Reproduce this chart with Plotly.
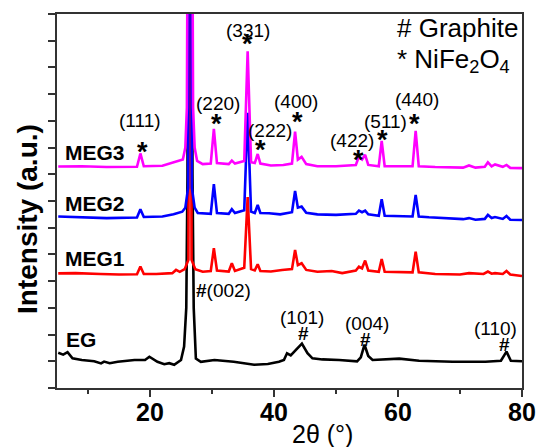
import plotly.graph_objects as go

# ---------------- data ----------------
EG_x = [5.2, 6.0, 6.7, 7.5, 9.0, 11.0, 12.1, 12.6, 13.5, 14.8, 17.5, 19.2, 19.9, 20.6, 21.2, 22.3, 23.1, 23.9,
        25.0, 25.5, 25.85, 26.05, 26.45, 26.85, 27.05, 27.4, 28.2, 30.4, 33.5, 36.8, 39.0, 40.8, 41.6, 42.1,
        42.7, 43.5, 44.5, 45.4, 46.2, 47.8, 50.5, 53.4, 54.0, 54.6, 55.2, 55.9, 60.2, 63.4, 68.8, 74.1, 76.6,
        77.5, 78.2, 80.0]
EG_y = [1.32, 1.25, 1.34, 1.11, 1.05, 1.0, 0.92, 0.99, 0.93, 0.98, 1.05, 1.05, 1.17, 1.08, 0.98, 0.89, 0.93, 0.87,
        1.05, 1.55, 3.0, 8.0, 60.0, 8.0, 3.0, 1.1, 0.98, 1.05, 0.98, 0.87, 0.9, 0.98, 1.05, 1.3,
        1.22, 1.42, 1.66, 1.3, 1.11, 1.07, 1.05, 1.0, 1.15, 1.62, 1.2, 1.05, 1.1, 1.02, 0.98, 0.98, 1.02,
        1.36, 1.02, 1.0]

MEG1_x = [5.2, 8, 12, 15, 17.9, 18.45, 19.0, 21, 23.6, 24.2, 24.8, 25.6, 26.2, 26.45, 26.7, 27.3, 28.5, 29.8,
          30.3, 30.8, 32.7, 33.2, 33.7, 35.2, 35.75, 36.3, 36.9, 37.37, 37.8, 39.5, 41.3, 42.9, 43.4, 43.85,
          44.45, 45.2, 47, 49.3, 51, 53.2, 53.7, 54.2, 54.7, 55.2, 56.9, 57.37, 57.85, 62.35, 62.85, 63.35,
          66, 70, 71.45, 73.8, 74.5, 75.1, 75.65, 76.9, 77.5, 78.1, 80]
MEG1_y = [4.29, 4.3, 4.27, 4.25, 4.26, 4.55, 4.27, 4.27, 4.3, 4.42, 4.35, 4.45, 4.8, 40.0, 4.8, 4.45, 4.35, 4.38,
          5.23, 4.4, 4.36, 4.67, 4.38, 4.5, 7.15, 4.45, 4.4, 4.63, 4.38, 4.36, 4.42, 4.45, 5.17, 4.6,
          4.67, 4.42, 4.35, 4.38, 4.3, 4.4, 4.54, 4.48, 4.77, 4.4, 4.35, 4.83, 4.35, 4.33, 5.1, 4.33,
          4.27, 4.25, 4.3, 4.27, 4.36, 4.28, 4.3, 4.27, 4.38, 4.25, 4.19]

MEG2_x = [5.2, 9, 13, 17.9, 18.45, 19.0, 22, 23.8, 25.2, 25.7, 26.15, 26.45, 26.75, 27.2, 27.7, 29.8, 30.3,
          30.8, 32.7, 33.2, 33.7, 35.2, 35.75, 36.3, 36.9, 37.37, 37.8, 39.2, 41, 42.9, 43.4, 43.85, 44.45,
          45.2, 47, 50, 53.2, 53.7, 54.2, 54.7, 55.2, 56.9, 57.37, 57.85, 62.35, 62.85, 63.35, 65, 70.5,
          71.45, 72.5, 74.0, 74.5, 75.1, 75.65, 76.9, 77.5, 78.1, 80]
MEG2_y = [6.42, 6.4, 6.36, 6.38, 6.69, 6.4, 6.42, 6.5, 6.6, 6.75, 7.5, 40.0, 7.5, 6.75, 6.55, 6.52, 7.63,
          6.55, 6.52, 6.69, 6.55, 6.65, 10.3, 6.6, 6.55, 6.85, 6.55, 6.54, 6.5, 6.58, 7.38, 6.75, 6.79,
          6.56, 6.5, 6.48, 6.52, 6.64, 6.58, 6.64, 6.5, 6.45, 7.07, 6.45, 6.42, 7.23, 6.42, 6.39, 6.32,
          6.36, 6.3, 6.33, 6.48, 6.36, 6.4, 6.33, 6.44, 6.3, 6.29]

MEG3_x = [5.2, 9, 13, 17.9, 18.45, 19.0, 22, 23.9, 25.3, 25.7, 25.95, 26.45, 26.95, 27.2, 27.6, 28.5, 29.8,
          30.3, 30.8, 32.7, 33.2, 33.7, 35.2, 35.75, 36.3, 36.9, 37.37, 37.8, 39.5, 41.5, 42.9, 43.4, 43.85,
          44.45, 45.2, 47, 50, 53.2, 53.7, 54.2, 54.7, 55.2, 56.9, 57.37, 57.85, 62.35, 62.85, 63.35, 66,
          70.5, 71.45, 72.5, 74.0, 74.5, 75.1, 75.65, 76.9, 77.5, 78.1, 80]
MEG3_y = [8.29, 8.3, 8.27, 8.28, 8.78, 8.3, 8.32, 8.45, 8.55, 9.0, 10.5, 40.0, 10.5, 9.0, 8.5, 8.38, 8.4,
          9.7, 8.42, 8.38, 8.51, 8.4, 8.5, 12.6, 8.45, 8.42, 8.76, 8.4, 8.33, 8.35, 8.4, 9.6, 8.55,
          8.65, 8.38, 8.3, 8.3, 8.35, 8.66, 8.55, 8.73, 8.35, 8.3, 9.25, 8.3, 8.3, 9.63, 8.3, 8.27,
          8.25, 8.33, 8.25, 8.28, 8.45, 8.3, 8.37, 8.28, 8.35, 8.24, 8.23]

series_names = ["EG", "MEG1", "MEG2", "MEG3"]
series_colors = ["#000000", "#FF0000", "#0000FF", "#FF00FF"]
series_x = [EG_x, MEG1_x, MEG2_x, MEG3_x]
series_y = [EG_y, MEG1_y, MEG2_y, MEG3_y]

# sample labels: (text, x, y)
sample_labels = [("MEG3", 6.0, 8.83), ("MEG2", 6.0, 6.92), ("MEG1", 6.0, 4.86), ("EG", 6.1, 1.8)]

# NiFe2O4 reflections: (hkl, label x, label y, star x, star y)
spinel_peaks = [("(111)", 18.44, 10.01, 18.71, 9.04),
                ("(220)", 31.02, 10.64, 30.65, 10.10),
                ("(331)", 35.80, 13.40, 35.76, 13.10),
                ("(222)", 39.40, 9.65, 37.90, 9.14),
                ("(400)", 43.50, 10.71, 43.76, 10.19),
                ("(422)", 52.50, 9.27, 53.55, 8.76),
                ("(511)", 57.94, 9.96, 57.47, 9.51),
                ("(440)", 63.11, 10.81, 62.69, 10.10)]

# graphite reflections: (hkl, label x, label y, hash x, hash y)
graphite_peaks = [("(101)", 44.52, 2.65, 44.68, 2.05),
                  ("(004)", 55.00, 2.40, 54.79, 1.83),
                  ("(110)", 75.73, 2.24, 77.21, 1.61)]

FONT = "Liberation Sans, Arial, sans-serif"

fig = go.Figure()
for name, color, xs, ys in zip(series_names, series_colors, series_x, series_y):
    fig.add_trace(go.Scatter(x=xs, y=ys, mode="lines", name=name,
                             line=dict(color=color, width=2.6), showlegend=False))

ann = []
for text, x, y in sample_labels:
    ann.append(dict(x=x, y=y, xref="x", yref="y", text=text, showarrow=False, xanchor="left",
                    yanchor="middle", font=dict(family=FONT, size=21, color="black", weight="bold")))

STAR_SHIFT = 0.22  # asterisk ink sits high in its line box
for hkl, lx, ly, sx, sy in spinel_peaks:
    ann.append(dict(x=lx, y=ly, xref="x", yref="y", text=hkl, showarrow=False, xanchor="center",
                    yanchor="middle", font=dict(family=FONT, size=19, color="black")))
    ann.append(dict(x=sx, y=sy - STAR_SHIFT, xref="x", yref="y", text="*", showarrow=False,
                    xanchor="center", yanchor="middle",
                    font=dict(family=FONT, size=27, color="black", weight="bold")))

for hkl, lx, ly, hx, hy in graphite_peaks:
    ann.append(dict(x=lx, y=ly, xref="x", yref="y", text=hkl, showarrow=False, xanchor="center",
                    yanchor="middle", font=dict(family=FONT, size=19, color="black")))
    ann.append(dict(x=hx, y=hy, xref="x", yref="y", text="#", showarrow=False, xanchor="center",
                    yanchor="middle", font=dict(family=FONT, size=19, color="black", weight="bold")))

ann.append(dict(x=31.8, y=3.65, xref="x", yref="y", text="<b>#</b>(002)", showarrow=False,
                xanchor="center", yanchor="middle", font=dict(family=FONT, size=19, color="black")))

# phase key
ann.append(dict(x=0.727, y=0.9626, xref="paper", yref="paper", text="# Graphite", showarrow=False,
                xanchor="left", yanchor="middle", font=dict(family=FONT, size=26, color="black")))
ann.append(dict(x=0.727, y=0.8770, xref="paper", yref="paper",
                text="* NiFe<sub>2</sub>O<sub>4</sub>", showarrow=False,
                xanchor="left", yanchor="middle", font=dict(family=FONT, size=26, color="black")))

# axis titles
ann.append(dict(x=-0.0624, y=0.452, xref="paper", yref="paper", text="Intensity (a.u.)", showarrow=False,
                textangle=-90, xanchor="center", yanchor="middle",
                font=dict(family=FONT, size=28, color="black", weight="bold")))
ann.append(dict(x=0.571, y=-0.123, xref="paper", yref="paper", text="2θ (°)", showarrow=False,
                xanchor="center", yanchor="middle", font=dict(family=FONT, size=25, color="black")))

fig.update_layout(
    width=538, height=447,
    margin=dict(l=57, r=16, t=14, b=59, autoexpand=False),
    paper_bgcolor="white", plot_bgcolor="white",
    annotations=ann,
    xaxis=dict(range=[5, 80], tickmode="linear", tick0=0, dtick=20, automargin=False,
               ticks="outside", ticklen=7, tickwidth=2, tickcolor="#333",
               ticklabelstandoff=-6,
               showline=True, linecolor="#333", linewidth=2, mirror=True,
               showgrid=False, zeroline=False,
               tickfont=dict(family=FONT, size=25, color="black", weight="bold"),
               minor=dict(dtick=10, tick0=0, ticks="outside", ticklen=4, tickwidth=2, tickcolor="#333",
                          showgrid=False)),
    yaxis=dict(range=[0, 14], tickmode="linear", tick0=0, dtick=1, automargin=False,
               ticks="outside", ticklen=7, tickwidth=2, tickcolor="#333",
               showticklabels=False,
               showline=True, linecolor="#333", linewidth=2, mirror=True,
               showgrid=False, zeroline=False),
)

fig.write_html("out.html")
